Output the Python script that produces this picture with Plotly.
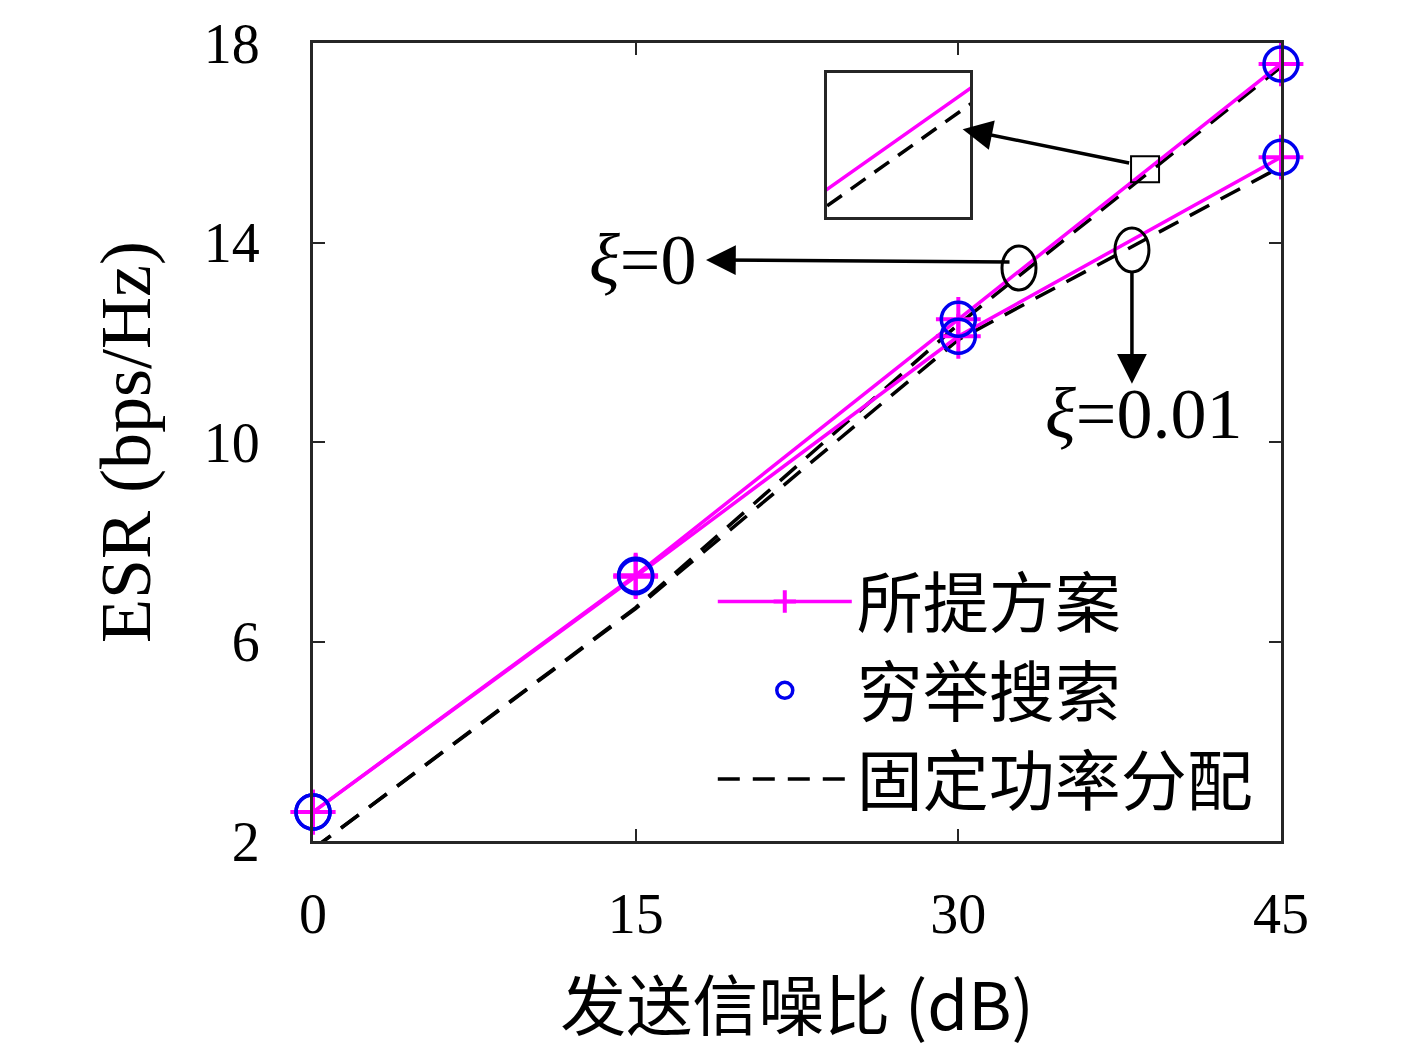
import plotly.graph_objects as go

snr = [0, 15, 30, 45]

proposed_xi0 = [2.58, 7.33, 12.46, 17.58]
proposed_xi001 = [2.58, 7.30, 12.12, 15.71]
exhaustive_xi0 = [2.58, 7.33, 12.46, 17.58]
exhaustive_xi001 = [2.58, 7.30, 12.12, 15.71]
fixed_xi0 = [1.84, 6.68, 12.36, 17.52]
fixed_xi001 = [1.84, 6.66, 12.05, 15.52]

MAGENTA = "#ff00ff"
BLUE = "#0000ee"
SERIF = "Liberation Serif, DejaVu Serif, serif"
CJK = "Noto Sans CJK SC, Liberation Serif, serif"

fig = go.Figure()

dash = "22px,13px"
fig.add_trace(go.Scatter(x=snr, y=fixed_xi0, mode="lines", name="固定功率分配",
                         line=dict(color="black", width=3.5, dash=dash), legendgroup="c", legendrank=3))
fig.add_trace(go.Scatter(x=snr, y=fixed_xi001, mode="lines", showlegend=False,
                         line=dict(color="black", width=3.5, dash=dash)))
plus = dict(symbol="cross-thin", size=32, color=MAGENTA, line=dict(color=MAGENTA, width=4))
fig.add_trace(go.Scatter(x=snr, y=proposed_xi0, mode="lines+markers", name="所提方案",
                         line=dict(color=MAGENTA, width=3.5), marker=plus, cliponaxis=False,
                         legendgroup="a", legendrank=1))
fig.add_trace(go.Scatter(x=snr, y=proposed_xi001, mode="lines+markers", showlegend=False,
                         line=dict(color=MAGENTA, width=3.5), marker=plus, cliponaxis=False))
fig.add_trace(go.Scatter(x=snr + snr, y=exhaustive_xi0 + exhaustive_xi001, mode="markers", name="穷举搜索",
                         marker=dict(symbol="circle-open", size=34, color=BLUE, line=dict(color=BLUE, width=3.5)),
                         cliponaxis=False, legendgroup="b", legendrank=2))

# inset: zoomed view of the xi=0 curves
fig.add_trace(go.Scatter(x=snr, y=proposed_xi0, mode="lines", showlegend=False, xaxis="x2", yaxis="y2",
                         line=dict(color=MAGENTA, width=3.5)))
fig.add_trace(go.Scatter(x=snr, y=fixed_xi0, mode="lines", showlegend=False, xaxis="x2", yaxis="y2",
                         line=dict(color="black", width=3.5, dash="18px,11px")))

axis_common = dict(showline=True, linecolor="#262626", linewidth=3, mirror="allticks",
                   ticks="inside", ticklen=12, tickwidth=2, tickcolor="#262626",
                   showgrid=False, zeroline=False, automargin=False, ticklabeloverflow="allow",
                   tickfont=dict(family=SERIF, size=56, color="black"))

fig.update_layout(
    width=1417, height=1058,
    margin=dict(l=305, r=144, t=35, b=225),
    paper_bgcolor="white", plot_bgcolor="white",
    xaxis=dict(range=[0, 45], tickvals=[0, 15, 30, 45], ticklabelstandoff=22,
               title=dict(text="发送信噪比 (dB)", font=dict(family=CJK, size=66, color="black"), standoff=40),
               **axis_common),
    yaxis=dict(range=[2, 18], tickvals=[2, 6, 10, 14, 18], ticklabelstandoff=39,
               title=dict(text="ESR (bps/Hz)", font=dict(family=SERIF, size=72, color="black"), standoff=30),
               **axis_common),
    xaxis2=dict(domain=[0.531, 0.679], anchor="y2", range=[38.0, 39.4], showticklabels=False, ticks="",
                showline=True, linecolor="#262626", linewidth=3, mirror=True, showgrid=False, zeroline=False),
    yaxis2=dict(domain=[0.782, 0.962], anchor="x2", range=[15.06, 15.74], showticklabels=False, ticks="",
                showline=True, linecolor="#262626", linewidth=3, mirror=True, showgrid=False, zeroline=False),
    legend=dict(x=0.413, y=0.362, xanchor="left", yanchor="top", bgcolor="rgba(0,0,0,0)",
                font=dict(family=CJK, size=66, color="black"), itemwidth=134,
                tracegroupgap=13, traceorder="normal"),
    showlegend=True,
)

# ellipses around the curves and the small zoom square
fig.add_shape(type="circle", xref="x", yref="y", xsizemode="pixel", ysizemode="pixel",
              xanchor=32.82, yanchor=13.49, x0=-17, x1=17, y0=-22, y1=22,
              line=dict(color="black", width=3))
fig.add_shape(type="circle", xref="x", yref="y", xsizemode="pixel", ysizemode="pixel",
              xanchor=38.07, yanchor=13.85, x0=-17, x1=17, y0=-22, y1=22,
              line=dict(color="black", width=3))
fig.add_shape(type="rect", xref="x", yref="y", xsizemode="pixel", ysizemode="pixel",
              xanchor=38.68, yanchor=15.47, x0=-14, x1=14, y0=-13, y1=13,
              line=dict(color="black", width=2))

arrow = dict(showarrow=True, arrowhead=2, arrowsize=1.7, arrowwidth=3.5, arrowcolor="black", text="")
fig.add_annotation(x=18.27, y=13.65, ax=305, ay=2, **arrow)
fig.add_annotation(x=38.07, y=11.17, ax=0, ay=-113, **arrow)
fig.add_annotation(x=30.2, y=16.27, ax=168, ay=34, **arrow)

fig.add_annotation(x=17.9, y=13.65, text="<i>ξ</i>=0", showarrow=False, xanchor="right", yanchor="middle",
                   font=dict(family=SERIF, size=72, color="black"))
fig.add_annotation(x=38.63, y=10.57, text="<i>ξ</i>=0.01", showarrow=False, xanchor="center", yanchor="middle",
                   font=dict(family=SERIF, size=72, color="black"))

fig.write_html("out.html")
